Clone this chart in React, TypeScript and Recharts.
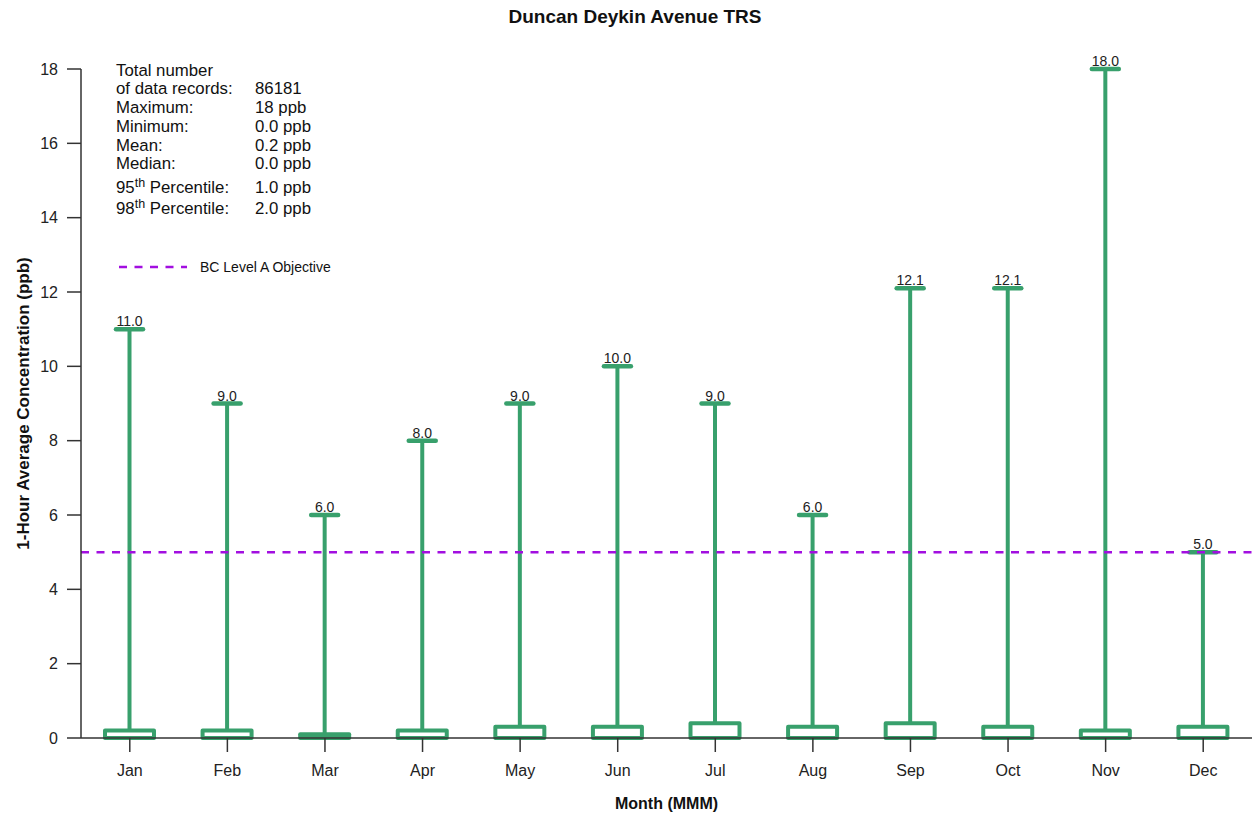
import { Bar, ComposedChart, LabelList, ReferenceLine, XAxis, YAxis } from "recharts";

const months = ["Jan", "Feb", "Mar", "Apr", "May", "Jun", "Jul", "Aug", "Sep", "Oct", "Nov", "Dec"];
// monthly maximum (whisker top) and 75th percentile (box top); min / Q1 are 0 throughout
const maxValues = [11.0, 9.0, 6.0, 8.0, 9.0, 10.0, 9.0, 6.0, 12.1, 12.1, 18.0, 5.0];
const q3Values = [0.2, 0.2, 0.1, 0.2, 0.3, 0.3, 0.4, 0.3, 0.4, 0.3, 0.2, 0.3];
const yTicks = [0, 2, 4, 6, 8, 10, 12, 14, 16, 18];
const objective = 5;

const statLabels = ["Total number", "of data records:", "Maximum:", "Minimum:", "Mean:", "Median:", "95th Percentile:", "98th Percentile:"];
const statValues = ["", "86181", "18 ppb", "0.0 ppb", "0.2 ppb", "0.0 ppb", "1.0 ppb", "2.0 ppb"];

const data = months.map((m, i) => ({ month: m, max: maxValues[i], q3: q3Values[i] }));

const GREEN = "#38a06c";
const PURPLE = "#a20fe0";
const FONT = "'Liberation Sans', Arial, sans-serif";
const rowCenters = [70.7, 89.3, 108.3, 127.3, 145.7, 164.3, 187.7, 209];

// eslint-disable-next-line @typescript-eslint/no-explicit-any
function BoxShape(props: any) {
  const { x, y, width, height, payload } = props;
  if (height == null || !payload) return null;
  const bottom = y + height;
  const boxH = (height * payload.q3) / payload.max;
  const cx = x + width / 2;
  return (
    <g>
      <line x1={cx} x2={cx} y1={y} y2={bottom - boxH} stroke={GREEN} strokeWidth={4} />
      <line x1={cx - 13.5} x2={cx + 13.5} y1={y} y2={y} stroke={GREEN} strokeWidth={4.5} strokeLinecap="round" />
      <rect x={x} y={bottom - boxH} width={width} height={boxH} fill="none" stroke={GREEN} strokeWidth={4} strokeLinejoin="round" />
    </g>
  );
}

function StatLabel({ text }: { text: string }) {
  const m = text.match(/^(\d+)th (.*)$/);
  if (!m) return <>{text}</>;
  return (
    <>
      {m[1]}
      <span style={{ fontSize: 12.5, position: "relative", top: -6 }}>th</span> {m[2]}
    </>
  );
}

export default function App() {
  return (
    <div style={{ position: "absolute", left: 0, top: 0, width: 1254, height: 817, fontFamily: FONT, background: "#fff" }}>
      <ComposedChart width={1254} height={817} data={data} margin={{ top: 69, right: 2, bottom: 0, left: 0 }}>
        <XAxis
          dataKey="month"
          interval={0}
          height={79}
          tickSize={14}
          tickMargin={13}
          stroke="#333"
          strokeWidth={1.5}
          tick={{ fill: "#222", fontSize: 16 }}
          label={{ value: "Month (MMM)", position: "insideBottom", offset: 8, style: { fontWeight: "bold", fontSize: 16, fill: "#111" } }}
        />
        <YAxis
          domain={[0, 18]}
          ticks={yTicks}
          width={81}
          tickSize={14}
          tickMargin={9}
          stroke="#333"
          strokeWidth={1.5}
          tick={{ fill: "#222", fontSize: 16 }}
          label={{
            value: "1-Hour Average Concentration (ppb)",
            angle: -90,
            position: "insideLeft",
            offset: 23,
            style: { textAnchor: "middle", fontWeight: "bold", fontSize: 17, fill: "#111" },
          }}
        />
        <Bar dataKey="max" barSize={49} shape={<BoxShape />} isAnimationActive={false}>
          <LabelList
            dataKey="max"
            position="top"
            offset={3}
            fill="#222"
            fontSize={14}
            formatter={(v: number) => Number(v).toFixed(1)}
          />
        </Bar>
        <ReferenceLine y={objective} stroke={PURPLE} strokeWidth={2.5} strokeDasharray="8 7.5" />
      </ComposedChart>

      <div
        style={{
          position: "absolute",
          top: 6,
          left: 635,
          transform: "translateX(-50%)",
          fontSize: 19,
          fontWeight: "bold",
          color: "#111",
          whiteSpace: "nowrap",
          lineHeight: "22px",
        }}
      >
        Duncan Deykin Avenue TRS
      </div>

      {statLabels.map((label, i) => (
        <div key={label} style={{ position: "absolute", top: rowCenters[i] - 10, left: 0, height: 20, lineHeight: "20px", fontSize: 16.8, color: "#111", whiteSpace: "nowrap" }}>
          <span style={{ position: "absolute", left: 116 }}>
            <StatLabel text={label} />
          </span>
          <span style={{ position: "absolute", left: 255 }}>{statValues[i]}</span>
        </div>
      ))}

      <svg style={{ position: "absolute", left: 110, top: 258 }} width={90} height={18}>
        <line x1={9} x2={77} y1={9} y2={9} stroke={PURPLE} strokeWidth={2.5} strokeDasharray="8 7.5" />
      </svg>
      <div style={{ position: "absolute", left: 200, top: 258, lineHeight: "18px", fontSize: 14, color: "#111", whiteSpace: "nowrap" }}>
        BC Level A Objective
      </div>
    </div>
  );
}
